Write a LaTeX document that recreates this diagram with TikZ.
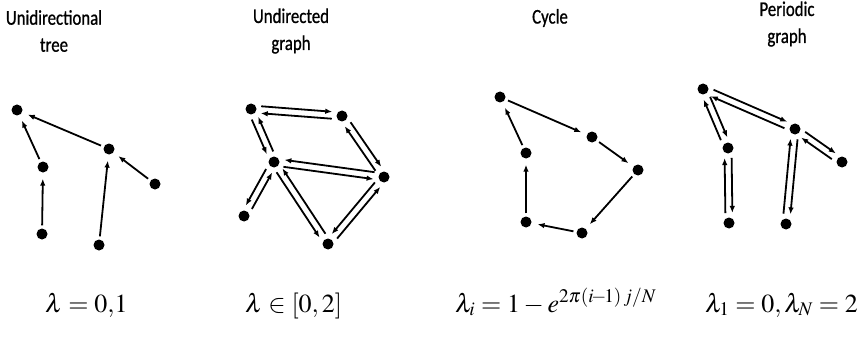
\documentclass[tikz,border=0pt]{standalone}
\usepackage{mathptmx}
\usepackage{fontspec}
\newfontfamily\headfont[FakeBold=0.8,FakeStretch=0.8]{Carlito}
\usepackage{tikz}
\usetikzlibrary{arrows.meta}
\usetikzlibrary{calc}
\tikzset{
 dot/.style={circle,fill=black,inner sep=0pt,minimum size=11pt},
 arc/.style={-{Latex[length=7pt,width=5.5pt]},line width=1.8pt},
 gap/.style={shorten <=3pt,shorten >=6pt},
 head/.style={align=center,font=\headfont\fontsize{21}{27}\selectfont},
 eq/.style={font=\fontsize{26}{30}\selectfont,anchor=base west,inner sep=0pt}
}
\newcommand{\twoway}[3]{%
 \draw [arc] ($(#1)!10pt!(#2)!#3!90:(#2)$) -- ($(#2)!10pt!(#1)!#3!-90:(#1)$);
 \draw [arc] ($(#2)!10pt!(#1)!#3!90:(#1)$) -- ($(#1)!10pt!(#2)!#3!-90:(#2)$);}

\begin{document}
\begin{tikzpicture}[x=1pt,y=-1pt]
 \useasboundingbox (0,0) rectangle (863,337);
 \node [head] (H1) at (54,31) {Unidirectional\\tree};
 \node [head] (H2) at (291,31) {Undirected\\graph};
 \node [head] (H3) at (550,18) {Cycle};
 \node [head] (H4) at (787,24) {Periodic\\graph};

 \node [dot] (T1) at (17,110) {};
 \node [dot] (T2) at (43,167) {};
 \node [dot] (T3) at (42,234) {};
 \node [dot] (T4) at (109,149) {};
 \node [dot] (T5) at (155,184) {};
 \node [dot] (T6) at (99,245) {};
 \draw [arc,gap] (T2) -- (T1);
 \draw [arc,gap] (T4) -- (T1);
 \draw [arc,gap] (T3) -- (T2);
 \draw [arc,gap] (T6) -- (T4);
 \draw [arc,gap] (T5) -- (T4);

 \node [dot] (U1) at (251,109) {};
 \node [dot] (U2) at (342,116) {};
 \node [dot] (U3) at (274,162) {};
 \node [dot] (U4) at (384,177) {};
 \node [dot] (U5) at (244,216) {};
 \node [dot] (U6) at (328,244) {};
 \twoway{U1}{U2}{3.5pt}
 \twoway{U1}{U3}{-3.5pt}
 \twoway{U2}{U4}{3.5pt}
 \twoway{U3}{U4}{-3.5pt}
 \twoway{U3}{U5}{-3.5pt}
 \twoway{U3}{U6}{-3.5pt}
 \twoway{U4}{U6}{-3.5pt}

 \node [dot] (C1) at (500,97) {};
 \node [dot] (C2) at (592,137) {};
 \node [dot] (C3) at (638,170) {};
 \node [dot] (C4) at (582,233) {};
 \node [dot] (C5) at (526,222) {};
 \node [dot] (C6) at (526,153) {};
 \draw [arc,gap] (C1) -- (C2);
 \draw [arc,gap] (C2) -- (C3);
 \draw [arc,gap] (C3) -- (C4);
 \draw [arc,gap] (C4) -- (C5);
 \draw [arc,gap] (C5) -- (C6);
 \draw [arc,gap] (C6) -- (C1);

 \node [dot] (P1) at (703,89) {};
 \node [dot] (P2) at (795,129) {};
 \node [dot] (P3) at (728,148) {};
 \node [dot] (P4) at (729,223) {};
 \node [dot] (P5) at (842,162) {};
 \node [dot] (P6) at (786,224) {};
 \twoway{P1}{P2}{3.5pt}
 \twoway{P1}{P3}{3.5pt}
 \twoway{P3}{P4}{3.5pt}
 \twoway{P2}{P5}{3.5pt}
 \twoway{P2}{P6}{3.5pt}

 \node [eq] (E1) at (45,312) {$\lambda=0{,}1$};
 \node [eq] (E2) at (245,312) {$\lambda\in[0,2]$};
 \node [eq] (E3) at (455,312) {$\lambda_i=1-e^{2\pi(i\!-\!1)\,j/N}$};
 \node [eq] (E4) at (705,312) {$\lambda_1=0,\lambda_N=2$};
\end{tikzpicture}
\end{document}
